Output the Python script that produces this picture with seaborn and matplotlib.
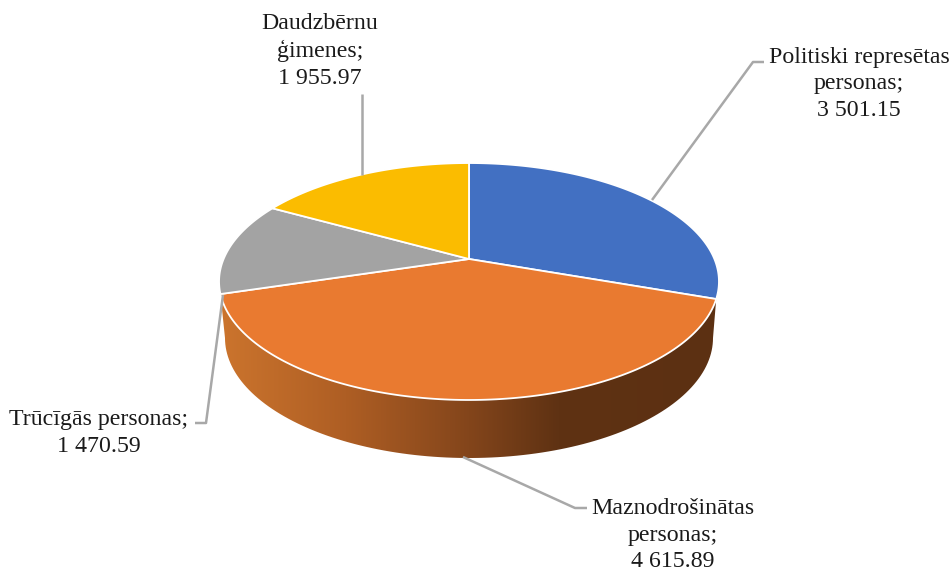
import numpy as np
import matplotlib
matplotlib.use('Agg')
import matplotlib.pyplot as plt
from matplotlib.colors import LinearSegmentedColormap
from matplotlib.patches import Polygon
import seaborn as sns

# Slices, clockwise from 12 o'clock
names = ['Politiski represētas\npersonas;', 'Maznodrošinātas\npersonas;',
         'Trūcīgās personas;', 'Daudzbērnu\nģimenes;']
values = [3501.15, 4615.89, 1470.59, 1955.97]
colors = ['#4270C2', '#E97A30', '#A3A3A3', '#FBBC00']

# Label centres and leader lines, in picture pixels
label_pos = [(859, 84), (673, 535), (99, 433), (320, 51)]
leaders = [[(652, 200), (753, 62), (764, 62)],
           [(463, 457), (575, 508), (587, 508)],
           [(223, 295), (206, 423), (195, 423)],
           [(362, 175), (362, 94)]]

# Perspective of the tilted disc
cx, cy = 469, 259
A, B, k = 245.4, 114.2, 0.19


def project(theta):
    # theta clockwise from the top of the disc, in radians
    u, v = np.sin(theta), np.cos(theta)
    d = 1 + k * v
    return cx + A * u / d, cy - B * v / d


sns.set_theme(style='white')
plt.rcParams['font.family'] = ['Liberation Serif', 'DejaVu Serif']

fig = plt.figure(figsize=(9.52, 5.71), dpi=100)
ax = fig.add_axes([0, 0, 1, 1])

edges = 2 * np.pi * np.concatenate([[0], np.cumsum(values)]) / np.sum(values)

# Side wall under the orange slice, shaded left to right
tx, ty = project(np.linspace(edges[2], edges[1], 120))
low = np.linspace(np.pi * 1.5, np.pi * 0.5, 120)
lx = cx + 244 * np.sin(low)
ly = 338 - 120 * np.cos(low)
wall = Polygon(np.column_stack([np.concatenate([tx, lx[::-1]]),
                                np.concatenate([ty, ly[::-1]])]),
               closed=True, facecolor='none', edgecolor='none')
ax.add_patch(wall)
shade = LinearSegmentedColormap.from_list(
    'wall', [(0, '#CB742D'), (0.25, '#AE5E24'), (0.5, '#83451B'), (0.68, '#5F3213'), (1, '#5C3012')])
img = ax.imshow(np.linspace(0, 1, 256)[None, :], cmap=shade, aspect='auto',
                extent=(222, 717, 460, 290), zorder=1)
img.set_clip_path(wall)

# Top of the pie
for i, c in enumerate(colors):
    x, y = project(np.linspace(edges[i], edges[i + 1], 150))
    ax.fill(np.r_[cx, x], np.r_[cy, y], facecolor=c, edgecolor='white', linewidth=1.3,
            joinstyle='round', zorder=2)

for pts in leaders:
    xs, ys = zip(*pts)
    ax.plot(xs, ys, color='#A8A8A8', linewidth=1.8, zorder=3, solid_capstyle='butt')

for name, v, (x, y) in zip(names, values, label_pos):
    txt = name + '\n' + f'{v:,.2f}'.replace(',', ' ')
    ax.text(x, y, txt, ha='center', va='center', fontsize=17.2, color='#1A1A1A',
            linespacing=1.37, zorder=4)

ax.set_xlim(0, 952)
ax.set_ylim(571, 0)
ax.axis('off')

fig.savefig('out.png', dpi=100)
